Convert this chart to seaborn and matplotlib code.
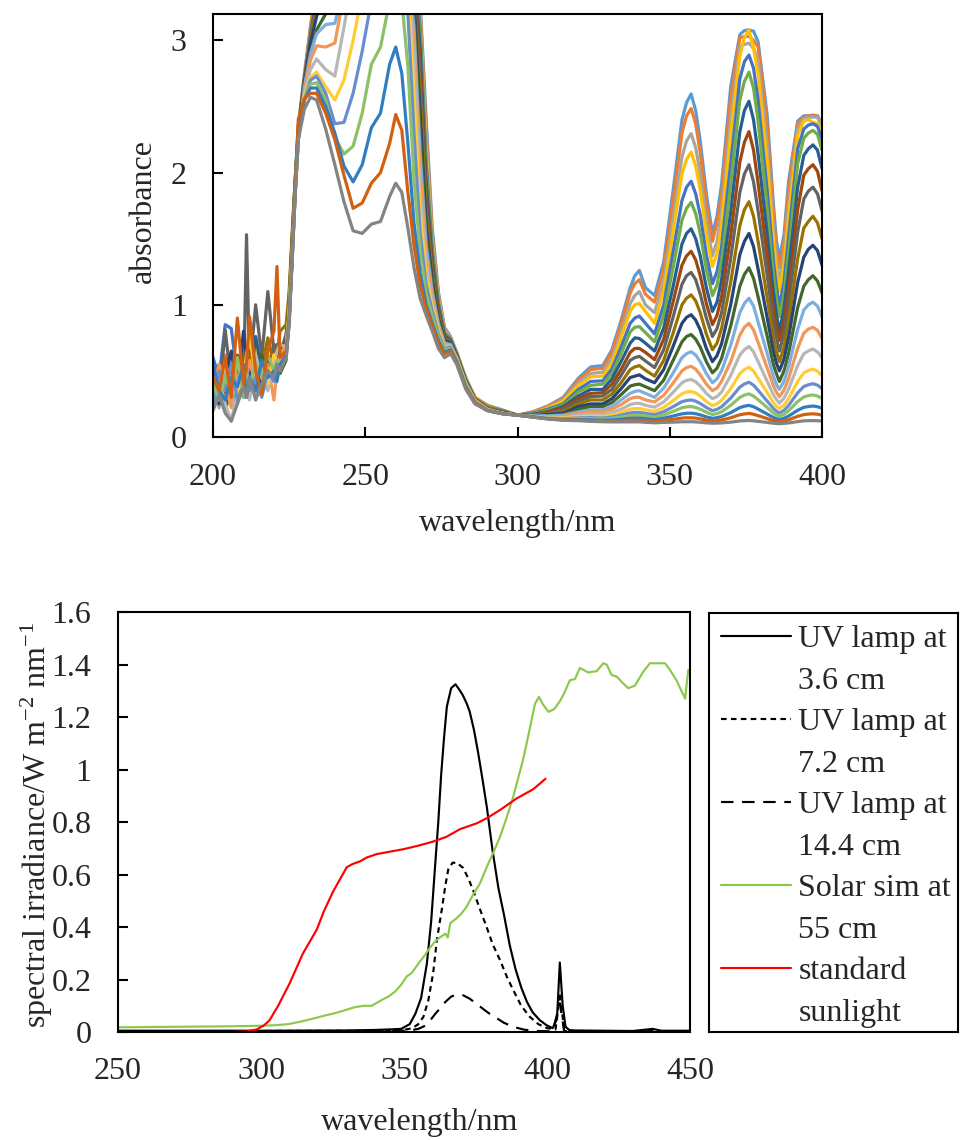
import numpy as np
import pandas as pd
import matplotlib
matplotlib.use("Agg")
import matplotlib.pyplot as plt
from matplotlib.lines import Line2D
import seaborn as sns

# ---------------- top panel: absorbance spectra (21 runs) ----------------
wl_noise = [200, 202, 204, 206, 208, 210, 211, 212, 214, 216, 218, 220, 221, 222, 224]
wl_uv = [225, 226, 227, 228, 230, 232, 234, 237, 240, 243, 246, 249, 252, 255, 258, 260,
         262, 264, 266, 268, 270, 272, 274, 276, 278, 280, 283, 286]
wl_vis = [290, 295, 300, 305, 310, 315, 320, 324, 328, 331, 334, 337, 338.5, 340, 342, 345, 348,
          351, 354, 355.5, 357, 358.5, 360, 362, 364, 365.5, 367, 370, 373, 374.5, 376, 377.5,
          379, 382, 384, 385, 386, 387.5, 389, 392, 394, 395.5, 397, 398.5, 400]

a01 = [0.35, 0.50, 0.30, 0.55, 0.28, 0.45, 0.40, 0.52, 0.35, 0.48, 0.40, 0.55, 0.50, 0.60, 0.70,
       1.00, 1.50, 1.95, 2.35, 2.75, 3.10, 3.40, 3.60, 3.60, 3.60, 3.60, 3.60, 3.60, 3.60, 3.60, 3.60,
       3.60, 3.60, 3.60, 3.30, 2.40, 1.58, 1.10, 0.83, 0.76, 0.64, 0.45, 0.30,
       0.24, 0.205, 0.165, 0.19, 0.235, 0.30, 0.445, 0.53, 0.54, 0.66, 0.88, 1.13, 1.22, 1.26, 1.13,
       1.07, 1.325, 1.85, 2.40, 2.53, 2.595, 2.47, 2.24, 1.84, 1.54, 1.67, 1.91, 2.65, 3.045, 3.075,
       3.08, 3.07, 2.99, 2.43, 1.77, 1.49, 1.35, 1.53, 1.93, 2.39, 2.43, 2.43, 2.435, 2.43, 2.35]
a02 = [0.30, 0.45, 0.62, 0.25, 0.50, 0.38, 0.30, 0.55, 0.70, 0.32, 0.45, 0.60, 0.48, 0.58, 0.68,
       0.95, 1.45, 1.90, 2.35, 2.72, 3.10, 3.40, 3.60, 3.60, 3.60, 3.60, 3.60, 3.60, 3.60, 3.60, 3.60,
       3.60, 3.60, 3.60, 3.25, 2.32, 1.54, 1.08, 0.82, 0.75, 0.64, 0.44, 0.30,
       0.24, 0.20, 0.165, 0.19, 0.23, 0.29, 0.43, 0.51, 0.52, 0.64, 0.85, 1.09, 1.16, 1.19, 1.08,
       1.02, 1.27, 1.77, 2.30, 2.43, 2.485, 2.37, 2.15, 1.77, 1.48, 1.62, 1.83, 2.57, 3.02, 3.03,
       3.03, 3.00, 2.95, 2.35, 1.70, 1.43, 1.28, 1.47, 1.87, 2.37, 2.42, 2.43, 2.43, 2.43, 2.36]
a03 = [0.40, 0.22, 0.48, 0.35, 0.58, 0.30, 0.45, 0.60, 0.28, 0.50, 0.62, 0.42, 0.58, 0.52, 0.72,
       0.90, 1.40, 1.90, 2.30, 2.70, 3.05, 3.35, 3.60, 3.60, 3.60, 3.60, 3.60, 3.60, 3.60, 3.60, 3.60,
       3.60, 3.60, 3.60, 3.20, 2.24, 1.50, 1.06, 0.81, 0.75, 0.64, 0.44, 0.30,
       0.235, 0.20, 0.165, 0.18, 0.22, 0.28, 0.41, 0.48, 0.49, 0.59, 0.79, 1.01, 1.07, 1.10, 1.00,
       0.94, 1.18, 1.64, 2.12, 2.24, 2.295, 2.19, 1.99, 1.63, 1.37, 1.48, 1.70, 2.41, 2.95, 2.97,
       2.98, 2.94, 2.85, 2.19, 1.58, 1.34, 1.17, 1.37, 1.75, 2.33, 2.41, 2.42, 2.42, 2.42, 2.34]
a04 = [0.45, 0.35, 0.28, 0.50, 0.42, 0.60, 0.55, 0.38, 0.70, 0.45, 0.52, 0.65, 0.60, 0.55, 0.70,
       1.00, 1.45, 1.90, 2.30, 2.70, 3.05, 3.35, 3.60, 3.60, 3.60, 3.60, 3.60, 3.60, 3.60, 3.60, 3.60,
       3.60, 3.60, 3.55, 3.15, 2.16, 1.46, 1.04, 0.80, 0.74, 0.63, 0.44, 0.30,
       0.23, 0.20, 0.165, 0.18, 0.22, 0.27, 0.39, 0.455, 0.46, 0.56, 0.75, 0.95, 1.00, 1.01, 0.95,
       0.86, 1.11, 1.54, 1.99, 2.10, 2.155, 2.05, 1.87, 1.535, 1.29, 1.39, 1.60, 2.29, 2.88, 3.02,
       3.08, 2.94, 2.75, 2.07, 1.49, 1.26, 1.10, 1.30, 1.66, 2.28, 2.39, 2.40, 2.38, 2.37, 2.32]
a05 = [0.60, 0.45, 0.85, 0.82, 0.45, 0.30, 0.42, 0.55, 0.38, 0.60, 0.45, 0.52, 0.62, 0.58, 0.68,
       0.95, 1.40, 1.85, 2.30, 2.70, 3.05, 3.35, 3.60, 3.60, 3.60, 3.60, 3.60, 3.60, 3.60, 3.60, 3.60,
       3.60, 3.60, 3.55, 3.10, 2.08, 1.42, 1.02, 0.79, 0.74, 0.63, 0.43, 0.29,
       0.23, 0.20, 0.165, 0.18, 0.21, 0.25, 0.36, 0.42, 0.425, 0.515, 0.68, 0.86, 0.90, 0.915, 0.86,
       0.78, 1.00, 1.39, 1.79, 1.89, 1.935, 1.84, 1.68, 1.38, 1.16, 1.25, 1.44, 2.07, 2.71, 2.84,
       2.89, 2.79, 2.55, 1.86, 1.34, 1.14, 0.99, 1.17, 1.51, 2.18, 2.33, 2.36, 2.37, 2.35, 2.25]
a06 = [0.22, 0.40, 0.35, 0.25, 0.55, 0.48, 0.62, 0.40, 0.58, 0.35, 0.55, 0.48, 0.65, 0.55, 0.68,
       1.05, 1.50, 1.95, 2.35, 2.70, 3.00, 3.30, 3.60, 3.60, 3.60, 3.60, 3.60, 3.60, 3.60, 3.60, 3.60,
       3.60, 3.60, 3.50, 3.05, 2.00, 1.38, 1.00, 0.78, 0.73, 0.63, 0.43, 0.29,
       0.23, 0.195, 0.165, 0.175, 0.20, 0.24, 0.34, 0.39, 0.40, 0.48, 0.63, 0.795, 0.83, 0.835, 0.79,
       0.72, 0.92, 1.27, 1.64, 1.73, 1.775, 1.69, 1.54, 1.27, 1.07, 1.15, 1.33, 1.91, 2.55, 2.69,
       2.76, 2.64, 2.39, 1.72, 1.23, 1.05, 0.91, 1.08, 1.39, 2.07, 2.26, 2.30, 2.32, 2.29, 2.17]
a07 = [0.50, 0.30, 0.55, 0.40, 0.25, 0.65, 0.45, 0.38, 0.76, 0.50, 0.42, 0.60, 0.55, 0.68, 0.72,
       0.90, 1.40, 1.90, 2.30, 2.70, 3.00, 3.30, 3.60, 3.60, 3.60, 3.60, 3.60, 3.60, 3.60, 3.60, 3.60,
       3.60, 3.60, 3.50, 2.95, 1.92, 1.34, 0.98, 0.77, 0.73, 0.62, 0.43, 0.29,
       0.22, 0.19, 0.165, 0.17, 0.19, 0.23, 0.31, 0.36, 0.36, 0.44, 0.57, 0.71, 0.75, 0.745, 0.71,
       0.65, 0.825, 1.13, 1.46, 1.54, 1.575, 1.50, 1.37, 1.13, 0.95, 1.02, 1.19, 1.70, 2.31, 2.47,
       2.54, 2.40, 2.14, 1.53, 1.10, 0.93, 0.80, 0.97, 1.25, 1.89, 2.13, 2.18, 2.21, 2.17, 2.03]
a08 = [0.38, 0.55, 0.30, 0.48, 0.62, 0.35, 0.50, 0.42, 0.55, 0.60, 0.48, 0.70, 0.62, 0.58, 0.75,
       1.00, 1.45, 1.90, 2.30, 2.70, 3.00, 3.30, 3.60, 3.60, 3.60, 3.60, 3.60, 3.60, 3.60, 3.60, 3.60,
       3.60, 3.60, 3.45, 2.85, 1.84, 1.30, 0.96, 0.76, 0.72, 0.62, 0.42, 0.29,
       0.22, 0.19, 0.165, 0.17, 0.19, 0.22, 0.29, 0.33, 0.335, 0.40, 0.51, 0.64, 0.67, 0.67, 0.64,
       0.585, 0.74, 1.015, 1.30, 1.37, 1.405, 1.34, 1.22, 1.01, 0.85, 0.92, 1.06, 1.52, 2.08, 2.23,
       2.31, 2.17, 1.92, 1.37, 0.98, 0.84, 0.73, 0.87, 1.12, 1.72, 1.98, 2.03, 2.06, 2.01, 1.86]
a09 = [0.45, 0.30, 0.81, 0.40, 0.55, 0.35, 1.53, 0.50, 1.00, 0.60, 1.10, 0.65, 0.70, 0.62, 0.78,
       1.05, 1.50, 1.95, 2.30, 2.70, 3.00, 3.30, 3.60, 3.60, 3.60, 3.60, 3.60, 3.60, 3.60, 3.60, 3.60,
       3.60, 3.60, 3.40, 2.75, 1.76, 1.26, 0.94, 0.75, 0.72, 0.62, 0.42, 0.29,
       0.22, 0.19, 0.165, 0.17, 0.18, 0.21, 0.27, 0.305, 0.31, 0.36, 0.465, 0.58, 0.60, 0.61, 0.575,
       0.525, 0.66, 0.90, 1.155, 1.22, 1.245, 1.19, 1.08, 0.90, 0.76, 0.82, 0.94, 1.35, 1.85, 1.99,
       2.06, 1.93, 1.71, 1.22, 0.87, 0.75, 0.65, 0.78, 1.00, 1.55, 1.80, 1.86, 1.89, 1.84, 1.71]
a10 = [0.32, 0.48, 0.58, 0.30, 0.45, 0.70, 0.55, 0.62, 0.40, 0.52, 0.75, 0.55, 0.60, 0.80, 0.85,
       1.10, 1.55, 1.95, 2.30, 2.70, 3.00, 3.25, 3.45, 3.60, 3.60, 3.60, 3.60, 3.60, 3.60, 3.60, 3.60,
       3.60, 3.60, 3.35, 2.60, 1.68, 1.22, 0.92, 0.74, 0.71, 0.61, 0.42, 0.28,
       0.22, 0.19, 0.165, 0.165, 0.175, 0.195, 0.25, 0.28, 0.28, 0.325, 0.41, 0.51, 0.53, 0.54, 0.505,
       0.46, 0.58, 0.78, 1.00, 1.05, 1.075, 1.03, 0.94, 0.78, 0.66, 0.71, 0.82, 1.17, 1.60, 1.72,
       1.78, 1.67, 1.48, 1.05, 0.76, 0.65, 0.57, 0.68, 0.87, 1.35, 1.58, 1.63, 1.67, 1.62, 1.50]
a11 = [0.40, 0.25, 0.45, 0.65, 0.35, 0.80, 0.60, 0.45, 0.55, 0.38, 0.60, 0.50, 0.58, 0.65, 0.72,
       0.95, 1.45, 1.90, 2.30, 2.68, 2.98, 3.18, 3.35, 3.50, 3.60, 3.60, 3.60, 3.60, 3.60, 3.60, 3.60,
       3.60, 3.60, 3.30, 2.45, 1.60, 1.18, 0.90, 0.73, 0.71, 0.61, 0.41, 0.28,
       0.21, 0.185, 0.165, 0.16, 0.17, 0.18, 0.23, 0.25, 0.25, 0.29, 0.365, 0.45, 0.46, 0.47, 0.44,
       0.41, 0.51, 0.68, 0.86, 0.905, 0.925, 0.884, 0.81, 0.67, 0.57, 0.615, 0.705, 1.00, 1.38, 1.48,
       1.54, 1.44, 1.27, 0.90, 0.65, 0.56, 0.50, 0.59, 0.75, 1.17, 1.36, 1.42, 1.45, 1.41, 1.30]
a12 = [0.28, 0.42, 0.20, 0.38, 0.52, 0.45, 0.35, 0.55, 0.48, 0.62, 0.42, 0.55, 0.50, 0.48, 0.58,
       0.90, 1.40, 1.85, 2.25, 2.65, 2.90, 3.08, 3.20, 3.30, 3.50, 3.60, 3.60, 3.60, 3.60, 3.60, 3.60,
       3.60, 3.60, 3.20, 2.30, 1.52, 1.14, 0.88, 0.72, 0.70, 0.60, 0.41, 0.28,
       0.21, 0.18, 0.165, 0.16, 0.16, 0.17, 0.21, 0.23, 0.23, 0.26, 0.32, 0.385, 0.395, 0.40, 0.38,
       0.35, 0.43, 0.575, 0.72, 0.76, 0.775, 0.74, 0.68, 0.57, 0.485, 0.52, 0.595, 0.84, 1.14, 1.23,
       1.28, 1.20, 1.06, 0.76, 0.55, 0.48, 0.42, 0.50, 0.63, 0.98, 1.14, 1.19, 1.22, 1.18, 1.09]
a13 = [0.45, 0.32, 0.52, 0.28, 0.45, 0.55, 0.42, 0.30, 0.58, 0.45, 0.38, 0.62, 0.55, 0.60, 0.66,
       0.90, 1.35, 1.85, 2.25, 2.65, 2.90, 3.05, 3.12, 3.13, 3.40, 3.60, 3.60, 3.60, 3.60, 3.60, 3.60,
       3.60, 3.50, 3.10, 2.15, 1.45, 1.10, 0.86, 0.71, 0.70, 0.60, 0.41, 0.28,
       0.21, 0.18, 0.165, 0.16, 0.16, 0.165, 0.19, 0.205, 0.205, 0.23, 0.28, 0.33, 0.345, 0.35, 0.33,
       0.30, 0.37, 0.48, 0.60, 0.63, 0.645, 0.62, 0.57, 0.48, 0.41, 0.44, 0.50, 0.695, 0.94, 1.01,
       1.05, 0.99, 0.87, 0.63, 0.46, 0.40, 0.36, 0.42, 0.53, 0.815, 0.96, 1.00, 1.02, 0.99, 0.91]
a14 = [0.35, 0.55, 0.40, 0.22, 0.60, 0.32, 0.45, 0.58, 0.40, 0.33, 0.55, 0.28, 0.50, 0.62, 0.70,
       0.95, 1.40, 1.85, 2.25, 2.62, 2.85, 2.96, 2.95, 2.98, 3.35, 3.60, 3.60, 3.60, 3.60, 3.60, 3.60,
       3.60, 3.50, 3.00, 2.00, 1.38, 1.06, 0.84, 0.70, 0.69, 0.60, 0.40, 0.28,
       0.21, 0.18, 0.165, 0.155, 0.15, 0.155, 0.18, 0.19, 0.19, 0.21, 0.245, 0.29, 0.30, 0.30, 0.28,
       0.265, 0.315, 0.405, 0.50, 0.525, 0.535, 0.513, 0.47, 0.40, 0.35, 0.37, 0.42, 0.57, 0.77, 0.83,
       0.86, 0.81, 0.715, 0.52, 0.39, 0.34, 0.305, 0.354, 0.44, 0.67, 0.785, 0.816, 0.83, 0.807, 0.745]
a15 = [0.30, 0.45, 0.25, 0.12, 0.35, 0.50, 0.40, 0.28, 0.62, 0.45, 0.35, 0.55, 0.65, 0.70, 0.68,
       0.90, 1.35, 1.85, 2.25, 2.60, 2.78, 2.86, 2.78, 2.73, 3.10, 3.50, 3.60, 3.60, 3.60, 3.60, 3.60,
       3.60, 3.50, 2.85, 1.85, 1.30, 1.02, 0.82, 0.69, 0.69, 0.59, 0.40, 0.27,
       0.205, 0.18, 0.165, 0.155, 0.15, 0.15, 0.165, 0.17, 0.17, 0.185, 0.21, 0.245, 0.254, 0.255, 0.24,
       0.225, 0.265, 0.335, 0.41, 0.428, 0.435, 0.418, 0.385, 0.33, 0.29, 0.306, 0.34, 0.465, 0.62,
       0.661, 0.685, 0.644, 0.57, 0.42, 0.32, 0.284, 0.255, 0.294, 0.36, 0.54, 0.63, 0.651, 0.665,
       0.644, 0.60]
a16 = [0.50, 0.38, 0.55, 0.42, 0.30, 0.45, 0.62, 0.75, 0.48, 0.55, 0.40, 0.62, 0.58, 0.55, 0.65,
       0.95, 1.40, 1.85, 2.25, 2.58, 2.72, 2.76, 2.65, 2.55, 2.70, 3.00, 3.35, 3.60, 3.60, 3.60, 3.60,
       3.60, 3.40, 2.60, 1.70, 1.22, 0.98, 0.80, 0.68, 0.68, 0.59, 0.40, 0.27,
       0.205, 0.178, 0.165, 0.154, 0.145, 0.143, 0.153, 0.156, 0.155, 0.165, 0.186, 0.21, 0.215, 0.215,
       0.206, 0.193, 0.223, 0.273, 0.327, 0.34, 0.345, 0.333, 0.309, 0.268, 0.237, 0.25, 0.276, 0.365,
       0.478, 0.51, 0.528, 0.498, 0.445, 0.335, 0.26, 0.233, 0.213, 0.24, 0.29, 0.42, 0.485, 0.503,
       0.513, 0.498, 0.463]
a17 = [0.25, 0.50, 0.35, 0.55, 0.28, 0.40, 0.52, 0.35, 0.45, 0.30, 0.50, 0.42, 0.55, 0.50, 0.62,
       0.90, 1.35, 1.85, 2.25, 2.55, 2.70, 2.73, 2.60, 2.37, 2.38, 2.60, 2.92, 3.30, 3.50, 3.60, 3.60,
       3.60, 3.20, 2.30, 1.55, 1.15, 0.95, 0.78, 0.67, 0.68, 0.58, 0.39, 0.27,
       0.203, 0.177, 0.165, 0.153, 0.142, 0.138, 0.144, 0.146, 0.143, 0.151, 0.165, 0.182, 0.186, 0.186,
       0.179, 0.168, 0.191, 0.228, 0.267, 0.276, 0.28, 0.271, 0.253, 0.223, 0.199, 0.209, 0.228, 0.294,
       0.377, 0.401, 0.414, 0.392, 0.353, 0.271, 0.216, 0.195, 0.181, 0.201, 0.238, 0.334, 0.382,
       0.395, 0.403, 0.392, 0.366]
a18 = [0.40, 0.28, 0.45, 0.35, 0.60, 0.30, 0.48, 0.40, 0.55, 0.45, 0.62, 0.50, 0.58, 0.52, 0.60,
       0.95, 1.40, 1.90, 2.30, 2.55, 2.67, 2.68, 2.55, 2.27, 2.14, 2.20, 2.45, 2.82, 2.95, 3.30, 3.40,
       3.30, 2.80, 1.95, 1.40, 1.08, 0.91, 0.76, 0.66, 0.67, 0.58, 0.39, 0.27,
       0.202, 0.177, 0.165, 0.152, 0.14, 0.134, 0.138, 0.137, 0.135, 0.14, 0.15, 0.161, 0.165, 0.164,
       0.158, 0.15, 0.166, 0.193, 0.221, 0.228, 0.23, 0.223, 0.21, 0.188, 0.17, 0.177, 0.191, 0.239,
       0.299, 0.317, 0.326, 0.31, 0.282, 0.222, 0.182, 0.167, 0.156, 0.171, 0.198, 0.268, 0.303,
       0.313, 0.318, 0.31, 0.291]
a19 = [0.55, 0.35, 0.28, 0.45, 0.38, 0.55, 0.30, 0.45, 0.35, 0.58, 0.45, 0.50, 0.42, 0.55, 0.62,
       0.90, 1.35, 1.90, 2.30, 2.55, 2.64, 2.64, 2.50, 2.30, 2.05, 1.93, 2.06, 2.34, 2.45, 2.82, 2.95,
       2.75, 2.22, 1.62, 1.24, 1.00, 0.86, 0.73, 0.64, 0.66, 0.57, 0.38, 0.26,
       0.201, 0.176, 0.165, 0.151, 0.138, 0.131, 0.131, 0.129, 0.126, 0.129, 0.134, 0.141, 0.143, 0.142,
       0.138, 0.131, 0.142, 0.158, 0.175, 0.179, 0.18, 0.176, 0.167, 0.152, 0.141, 0.146, 0.154, 0.184,
       0.222, 0.233, 0.239, 0.229, 0.211, 0.173, 0.148, 0.138, 0.132, 0.141, 0.158, 0.202, 0.224,
       0.23, 0.234, 0.229, 0.217]
a20 = [0.45, 0.35, 0.60, 0.30, 0.90, 0.40, 0.55, 0.91, 0.50, 0.32, 0.65, 0.80, 1.29, 0.60, 0.65,
       0.85, 1.40, 1.90, 2.40, 2.56, 2.60, 2.60, 2.45, 2.25, 1.98, 1.73, 1.77, 1.92, 2.00, 2.22, 2.44,
       2.32, 1.85, 1.45, 1.15, 0.97, 0.84, 0.71, 0.63, 0.65, 0.56, 0.37, 0.26,
       0.20, 0.176, 0.165, 0.151, 0.137, 0.129, 0.127, 0.123, 0.121, 0.121, 0.124, 0.127, 0.128, 0.127,
       0.124, 0.119, 0.125, 0.133, 0.143, 0.145, 0.145, 0.143, 0.137, 0.128, 0.121, 0.124, 0.128, 0.145,
       0.168, 0.174, 0.178, 0.172, 0.161, 0.139, 0.124, 0.119, 0.115, 0.12, 0.13, 0.156, 0.169, 0.173,
       0.175, 0.172, 0.165]
a21 = [0.20, 0.32, 0.18, 0.12, 0.25, 0.38, 0.30, 0.45, 0.28, 0.40, 0.50, 0.45, 0.55, 0.50, 0.60,
       0.85, 1.35, 1.85, 2.25, 2.48, 2.57, 2.55, 2.33, 2.06, 1.78, 1.56, 1.54, 1.61, 1.63, 1.82, 1.92,
       1.85, 1.58, 1.28, 1.05, 0.92, 0.80, 0.67, 0.60, 0.63, 0.55, 0.36, 0.25,
       0.20, 0.175, 0.165, 0.15, 0.136, 0.126, 0.123, 0.118, 0.115, 0.114, 0.114, 0.114, 0.114, 0.114,
       0.111, 0.107, 0.11, 0.112, 0.115, 0.115, 0.115, 0.114, 0.111, 0.107, 0.104, 0.105, 0.106, 0.112,
       0.121, 0.123, 0.125, 0.122, 0.118, 0.11, 0.104, 0.102, 0.10, 0.103, 0.106, 0.116, 0.122, 0.123,
       0.124, 0.123, 0.12]

run_colors = ["#5B9BD5", "#ED7D31", "#A5A5A5", "#FFC000", "#4472C4", "#70AD47",
              "#255E91", "#9E480E", "#636363", "#997300", "#264478", "#43682B",
              "#7CAFDD", "#F1975A", "#B7B7B7", "#FFCD33", "#698ED0", "#8CC168",
              "#327DC2", "#D26012", "#848484"]

# ---------------- bottom panel: lamp spectra ----------------
uv36_wl = [250, 300, 330, 340, 345, 349, 352, 354, 356, 358, 359.5, 361, 362, 363, 364, 365, 366.5,
           368, 369, 370.5, 372, 373, 374.5, 376, 377.5, 379, 381, 383, 385, 387, 389, 391, 393,
           395, 397.5, 400, 402, 403.5, 404.5, 405.5, 406.5, 408, 420, 430, 437, 440, 450]
uv36_irr = [0.005, 0.005, 0.006, 0.008, 0.01, 0.012, 0.03, 0.07, 0.13, 0.26, 0.42, 0.65, 0.80, 0.98,
            1.12, 1.24, 1.31, 1.325, 1.31, 1.285, 1.25, 1.22, 1.15, 1.06, 0.96, 0.855, 0.69, 0.55,
            0.445, 0.33, 0.24, 0.17, 0.115, 0.075, 0.045, 0.025, 0.015, 0.05, 0.265, 0.10, 0.02,
            0.006, 0.005, 0.004, 0.012, 0.005, 0.005]
uv72_wl = [250, 340, 350, 353, 355, 356.8, 358.5, 360.2, 361.5, 363.2, 364.5, 365.5, 367, 368.5,
           370.7, 372.5, 374.2, 376.5, 378.9, 381, 383.6, 386, 388.2, 391, 394, 397, 400, 403,
           404.5, 406, 410, 450]
uv72_irr = [0.003, 0.005, 0.008, 0.015, 0.03, 0.058, 0.12, 0.224, 0.35, 0.465, 0.56, 0.62, 0.645,
            0.645, 0.625, 0.585, 0.54, 0.47, 0.40, 0.335, 0.274, 0.21, 0.16, 0.10, 0.058, 0.03,
            0.015, 0.01, 0.15, 0.01, 0.004, 0.003]
uv144_wl = [250, 345, 352, 355, 357, 359, 361, 362.6, 364.5, 366.5, 368.5, 370.7, 373, 376.6, 379.5,
            382.4, 385, 388.2, 392, 396, 402, 404.5, 406, 450]
uv144_irr = [0.002, 0.003, 0.006, 0.012, 0.022, 0.042, 0.07, 0.09, 0.115, 0.135, 0.143, 0.14, 0.127,
             0.097, 0.073, 0.053, 0.035, 0.02, 0.009, 0.004, 0.003, 0.11, 0.004, 0.002]
solar_wl = [250, 260, 270, 280, 290, 300, 305, 309.5, 314, 318.9, 322, 325.9, 329, 332.9, 336, 338.7,
            340, 342.2, 344.5, 346.9, 349, 351, 352.7, 355, 357.3, 359, 360.8, 362.5, 364.5, 365.3,
            366.2, 368, 370, 371.9, 374, 376.6, 379, 381.5, 383.6, 386, 388.2, 390, 391.6, 393.5,
            395.8, 397.2, 398.5, 400.5, 402.5, 404.5, 405.7, 408, 409.8, 411.5, 414.4, 417.4, 419.7,
            420.9, 422.6, 424.4, 426.5, 428.4, 430.8, 433.5, 436, 441.3, 443, 445.3, 448.3, 449.4]
solar_irr = [0.018, 0.019, 0.02, 0.021, 0.022, 0.024, 0.026, 0.03, 0.04, 0.053, 0.062, 0.072, 0.082,
             0.095, 0.10, 0.10, 0.108, 0.122, 0.135, 0.154, 0.18, 0.212, 0.225, 0.26, 0.293, 0.32,
             0.344, 0.36, 0.375, 0.36, 0.415, 0.43, 0.45, 0.477, 0.52, 0.567, 0.63, 0.69, 0.744, 0.82,
             0.896, 0.97, 1.036, 1.13, 1.25, 1.277, 1.25, 1.22, 1.23, 1.26, 1.284, 1.34, 1.345, 1.387,
             1.37, 1.375, 1.405, 1.40, 1.36, 1.354, 1.33, 1.31, 1.32, 1.37, 1.405, 1.405, 1.38, 1.34,
             1.27, 1.38]
sun_wl = [290, 295, 298.5, 301, 303, 306, 310, 314.7, 319.5, 322, 325.2, 330, 332, 334.6, 337, 340.5,
          345, 350, 355, 360, 364.9, 369.6, 375.4, 379, 383.6, 389.4, 395.2, 399.5]
sun_irr = [0.0, 0.002, 0.01, 0.025, 0.045, 0.10, 0.185, 0.30, 0.39, 0.46, 0.535, 0.628, 0.64, 0.65,
           0.665, 0.678, 0.687, 0.697, 0.71, 0.725, 0.744, 0.773, 0.795, 0.815, 0.846, 0.89, 0.925,
           0.965]

legend_lines = ["UV lamp at", "3.6 cm", "UV lamp at", "7.2 cm", "UV lamp at", "14.4 cm",
                "Solar sim at", "55 cm", "standard", "sunlight"]

# ---------------- style ----------------
sns.set_style("ticks")
plt.rcParams["font.family"] = ["Liberation Serif", "DejaVu Serif"]
plt.rcParams["mathtext.fontset"] = "custom"
plt.rcParams["mathtext.rm"] = "Liberation Serif"
plt.rcParams["mathtext.it"] = "Liberation Serif:italic"
FS = 23

fig = plt.figure(figsize=(9.6, 11.4), dpi=100)
ax1 = fig.add_axes([0.2219, 0.6167, 0.6344, 0.3710])
ax2 = fig.add_axes([0.1229, 0.0947, 0.5958, 0.3684])
axl = fig.add_axes([0.7385, 0.0947, 0.2595, 0.3676])

# top panel
runs = [a01, a02, a03, a04, a05, a06, a07, a08, a09, a10, a11, a12, a13, a14, a15, a16, a17,
        a18, a19, a20, a21]
wavelength = wl_noise + wl_uv + wl_vis
assert all(len(r) == len(wavelength) for r in runs)
names = [f"run{i + 1:02d}" for i in range(len(runs))]
spec = pd.DataFrame({
    "wavelength": wavelength * len(runs),
    "absorbance": [v for r in runs for v in r],
    "run": [n for n, r in zip(names, runs) for _ in r],
})
sns.lineplot(data=spec, x="wavelength", y="absorbance", hue="run", hue_order=names,
             palette=run_colors, estimator=None, sort=False, legend=False,
             linewidth=2.3, ax=ax1)
for ln in ax1.get_lines():
    ln.set_solid_joinstyle("round")
ax1.set_xlim(200, 400)
ax1.set_ylim(0, 3.2)
ax1.set_xticks([200, 250, 300, 350, 400])
ax1.set_yticks([0, 1, 2, 3])
ax1.tick_params(direction="in", length=7, width=1.5, labelsize=FS, color="black")
ax1.tick_params(axis="y", pad=19)
ax1.tick_params(axis="x", pad=19)
ax1.set_xlabel("wavelength/nm", fontsize=FS)
ax1.set_ylabel("absorbance", fontsize=FS)
ax1.xaxis.set_label_coords(0.5, -0.17)
ax1.yaxis.set_label_coords(-0.09, 0.535)

# bottom panel
lamp = [(uv36_wl, uv36_irr, "black", "-"),
        (uv72_wl, uv72_irr, "black", (0, (2.6, 2.0))),
        (uv144_wl, uv144_irr, "black", (0, (5.8, 4.0))),
        (solar_wl, solar_irr, "#8CC84B", "-"),
        (sun_wl, sun_irr, "#FF0000", "-")]
for x, y, c, ls in lamp:
    sns.lineplot(x=x, y=y, color=c, linestyle=ls, linewidth=1.55, estimator=None, sort=False,
                 ax=ax2)
ax2.set_xlim(250, 450)
ax2.set_ylim(0, 1.6)
ax2.set_xticks([250, 300, 350, 400, 450])
ax2.set_yticks([0, 0.2, 0.4, 0.6, 0.8, 1.0, 1.2, 1.4, 1.6])
ax2.set_yticklabels(["0", "0.2", "0.4", "0.6", "0.8", "1", "1.2", "1.4", "1.6"])
ax2.tick_params(direction="in", length=7, width=1.5, labelsize=FS, color="black")
ax2.tick_params(axis="x", length=0, pad=18)
ax2.tick_params(axis="y", pad=19)
ax2.set_xlabel("wavelength/nm", fontsize=FS)
ax2.set_ylabel("spectral irradiance/W m$^{-2}$ nm$^{-1}$", fontsize=FS)
ax2.xaxis.set_label_coords(0.528, -0.18)
ax2.yaxis.set_label_coords(-0.11, 0.493)

# legend box
blank = Line2D([], [], color="none")
handles = []
for h in ax2.get_lines()[:5]:
    handles += [h, blank]
axl.set_xticks([])
axl.set_yticks([])
axl.legend(handles, legend_lines, loc="upper left", bbox_to_anchor=(0, 1), frameon=False,
           fontsize=FS, handlelength=2.2, handletextpad=0.22, labelspacing=0.38,
           borderpad=0.38, borderaxespad=0)

for ax in (ax1, ax2, axl):
    for s in ax.spines.values():
        s.set_visible(True)
        s.set_linewidth(1.5)
        s.set_color("black")

fig.savefig("out.png", dpi=100)
